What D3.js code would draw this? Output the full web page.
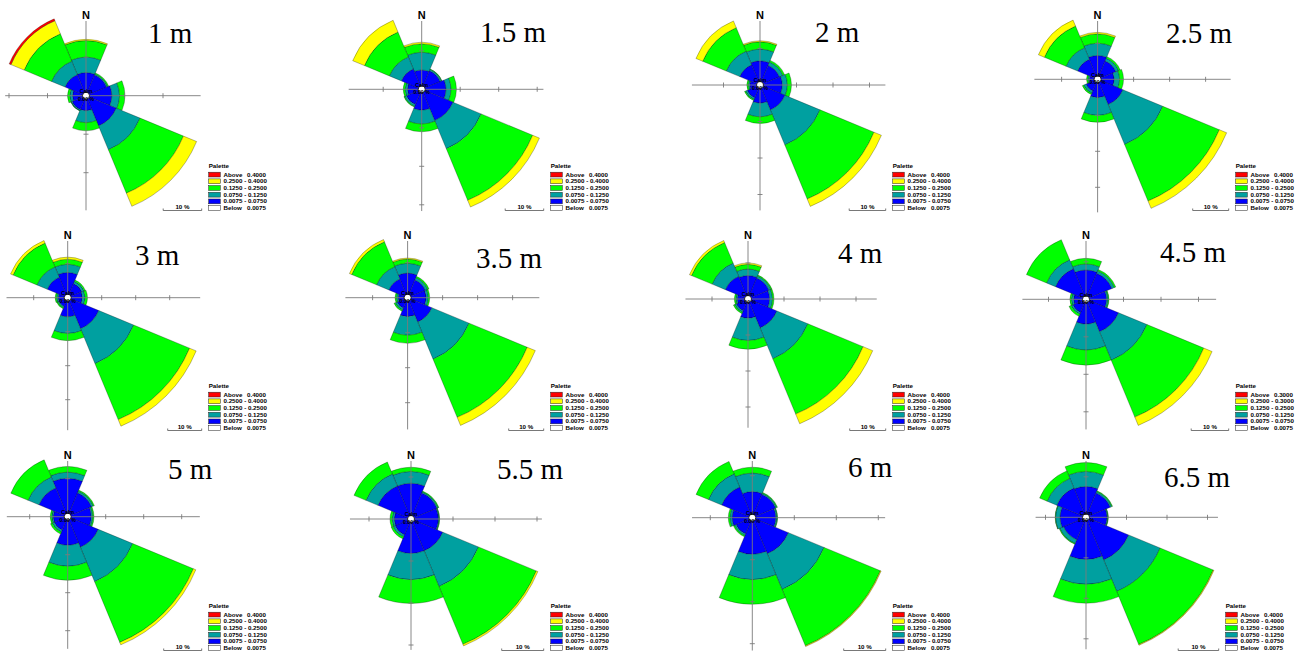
<!DOCTYPE html>
<html>
<head>
<meta charset="utf-8">
<script src="https://cdn.jsdelivr.net/npm/d3@7"></script>
<style>
  body { margin: 0; background: #fff; }
  svg { display: block; }
</style>
</head>
<body>
<svg id="chart" width="1302" height="656"></svg>
<script>
// Direction sectors, clockwise from north (45 degrees each)
const directions = ["N", "NE", "E", "SE", "S", "SW", "W", "NW"];
// Speed class lower bounds; the upper limit of the top class varies per plot
const speedBreaks = [0.0075, 0.075, 0.125, 0.25];
const classColors = ["#0000ff", "#00a0a0", "#00ff00", "#ffff00", "#ff0000"];
const depths = ["1 m", "1.5 m", "2 m", "2.5 m", "3 m", "3.5 m", "4 m", "4.5 m", "5 m", "5.5 m", "6 m", "6.5 m"];
const topLimit = [0.4, 0.4, 0.4, 0.4, 0.4, 0.4, 0.4, 0.3, 0.4, 0.4, 0.4, 0.4];
const calms = ["0.00", "0.00", "0.00", "0.00", "0.00", "0.00", "0.00", "0.00", "0.00", "0.00", "0.00", "0.00"];

// Frequency (%) by direction (rows N..NW) and speed class (blue, teal, green, yellow, red)
const freq1m = [
  [6.0, 4.0, 4.3, 0.3, 0], [5.8, 0.3, 0.3, 0, 0], [6.7, 2.0, 1.4, 0, 0], [8.5, 6.7, 12.2, 3.7, 0],
  [3.9, 3.1, 2.1, 0, 0], [3.9, 0.3, 0.1, 0, 0], [3.5, 0.7, 0.6, 0, 0], [5.9, 3.8, 7.7, 3.7, 0.5]];
const freq1_5m = [
  [5.0, 4.6, 2.2, 0.4, 0], [5.2, 0.4, 0.1, 0, 0], [6.3, 1.3, 1.4, 0, 0], [8.8, 7.9, 14.5, 1.9, 0],
  [5.4, 3.6, 2.0, 0, 0], [4.3, 0.5, 0.2, 0, 0], [3.7, 0.6, 0.5, 0, 0], [5.7, 3.4, 7.0, 3.3, 0]];
const freq2m = [
  [6.6, 3.2, 2.0, 0.3, 0], [5.8, 1.0, 0.5, 0, 0], [6.1, 1.4, 1.1, 0, 0], [7.4, 10.4, 16.0, 2.2, 0],
  [5.0, 3.7, 1.8, 0, 0], [3.8, 0.5, 0.3, 0, 0], [2.8, 0.4, 0.4, 0, 0], [6.0, 4.0, 7.0, 2.0, 0]];
const freq2_5m = [
  [6.6, 3.4, 2.6, 0.4, 0], [5.5, 0.8, 0.5, 0, 0], [4.6, 1.5, 1.1, 0, 0], [7.6, 12.0, 17.0, 2.2, 0],
  [5.1, 4.9, 1.9, 0, 0], [3.5, 0.7, 0.4, 0, 0], [2.3, 0.4, 0.4, 0, 0], [6.0, 3.5, 6.5, 1.8, 0]];
const freq3m = [
  [7.4, 2.4, 1.5, 0.6, 0], [4.5, 0.7, 0.4, 0, 0], [4.3, 0.8, 0.7, 0, 0], [9.9, 11.1, 17.8, 2.1, 0],
  [5.6, 4.9, 2.1, 0, 0], [2.8, 0.4, 0.3, 0, 0], [2.8, 0.5, 0.4, 0, 0], [6.5, 3.3, 7.6, 0.8, 0]];
const freq3_5m = [
  [7.0, 2.8, 1.2, 0.3, 0], [5.5, 0.7, 0.4, 0, 0], [5.3, 0.6, 0.4, 0, 0], [7.5, 11.5, 18.0, 2.5, 0],
  [5.4, 5.3, 2.3, 0, 0], [3.2, 0.6, 0.4, 0, 0], [2.7, 0.5, 0.4, 0, 0], [5.8, 3.8, 7.7, 0.7, 0]];
const freq4m = [
  [6.5, 1.8, 1.3, 0.4, 0], [6.3, 0.6, 0.3, 0, 0], [6.0, 0.8, 0.4, 0, 0], [8.7, 9.3, 16.6, 2.9, 0],
  [5.3, 6.2, 2.4, 0, 0], [3.5, 0.5, 0.4, 0, 0], [3.0, 0.4, 0.4, 0, 0], [6.8, 4.0, 6.2, 0.6, 0]];
const freq4_5m = [
  [7.8, 1.6, 1.5, 0, 0], [7.5, 0.7, 0.4, 0, 0], [5.5, 0.4, 0.2, 0, 0], [9.4, 8.2, 16.4, 2.4, 0],
  [6.6, 6.9, 4.0, 0, 0], [3.8, 0.5, 0.6, 0, 0], [3.3, 0.6, 0.4, 0, 0], [8.8, 2.6, 5.8, 0, 0]];
const freq5m = [
  [10.1, 1.6, 1.5, 0, 0], [6.8, 0.5, 0.3, 0, 0], [6.2, 0.4, 0.3, 0, 0], [8.7, 9.8, 17.3, 0.7, 0],
  [7.5, 5.5, 3.7, 0, 0], [3.8, 0.6, 0.5, 0, 0], [3.8, 0.4, 0.4, 0, 0], [8.2, 3.1, 4.9, 0, 0]];
const freq5_5m = [
  [8.5, 2.8, 1.0, 0, 0], [6.7, 0.3, 0.2, 0, 0], [6.5, 0.2, 0.1, 0, 0], [8.2, 9.2, 14.9, 0.4, 0],
  [8.2, 6.2, 5.7, 0, 0], [4.1, 0.5, 0.5, 0, 0], [4.0, 0.5, 0.5, 0, 0], [8.5, 3.1, 3.1, 0, 0]];
const freq6m = [
  [6.2, 4.4, 1.4, 0, 0], [6.0, 0.3, 0.2, 0, 0], [5.6, 0.3, 0.1, 0, 0], [9.3, 9.2, 14.5, 0.2, 0],
  [8.7, 6.0, 5.9, 0, 0], [4.2, 0.4, 0.3, 0, 0], [4.8, 0.5, 0.4, 0, 0], [7.9, 3.4, 3.2, 0, 0]];
const freq6_5m = [
  [7.6, 3.7, 2.2, 0, 0], [6.5, 0.4, 0.2, 0, 0], [5.2, 0.2, 0.1, 0, 0], [11.4, 8.4, 14.2, 0.2, 0],
  [10.4, 6.1, 4.7, 0, 0], [6.0, 1.0, 0.2, 0, 0], [6.4, 1.1, 0.1, 0, 0], [7.8, 2.6, 2.0, 0, 0]];

const roseFreq = [freq1m, freq1_5m, freq2m, freq2_5m, freq3m, freq3_5m, freq4m, freq4_5m,
                  freq5m, freq5_5m, freq6m, freq6_5m];

// Page layout: panel origin, rose centre, pixels per 10 %, title anchor
const panelOrigin = [[0, 0], [342, 0], [684, 0], [1027, 0],
                     [0, 220], [342, 220], [684, 220], [1027, 220],
                     [0, 440], [342, 440], [684, 440], [1017, 440]];
const roseCenter = [[86, 95.7], [421.7, 89.3], [760, 85], [1097.6, 79.3],
                    [67.7, 297.7], [407.6, 297.7], [748, 299], [1086, 299.3],
                    [67.7, 516.7], [411, 519], [752.3, 517.7], [1086, 517.3]];
const pxPer10 = [38.5, 38.5, 36.5, 36, 34, 35, 36, 37.5, 38, 42, 42, 40.5];
const titlePos = [[148, 43], [480, 42], [815, 42], [1166, 43],
                  [135, 265], [476, 268], [838, 263], [1160, 262],
                  [168, 479], [497, 479], [848, 477], [1164, 487]];

const svg = d3.select("#chart");
const arc = d3.arc();
const half = Math.PI / 8;
const fmt = d3.format(".4f");
const sans = "'Liberation Sans', Arial, sans-serif";

depths.forEach((depth, p) => {
  const [ox, oy] = panelOrigin[p];
  const [cx, cy] = roseCenter[p];
  const r = d3.scaleLinear().domain([0, 10]).range([0, pxPer10[p]]);
  const g = svg.append("g").attr("class", "panel");
  const rose = g.append("g").attr("transform", `translate(${cx},${cy})`);

  // stacked bands per direction sector
  const bands = [];
  const totals = [];
  roseFreq[p].forEach((vals, i) => {
    const cum = [0, ...d3.cumsum(vals)];
    const a = i * Math.PI / 4;
    vals.forEach((v, k) => {
      if (v > 0) bands.push({ cls: k, r0: cum[k], r1: cum[k + 1], a0: a - half, a1: a + half });
    });
    totals.push({ a, total: cum[cum.length - 1] });
  });

  rose.selectAll("path.band").data(bands).join("path")
    .attr("class", "band")
    .attr("d", d => arc({ innerRadius: r(d.r0), outerRadius: r(d.r1), startAngle: d.a0, endAngle: d.a1 }))
    .attr("fill", d => classColors[d.cls])
    .attr("stroke", "rgba(0,0,0,0.55)")
    .attr("stroke-width", 0.5);

  // axis extents follow the outermost petal corners
  let right = 0, left = 0, down = 0;
  totals.forEach(({ a, total }) => {
    [a - half, a + half].forEach(t => {
      const x = Math.sin(t) * r(total), y = -Math.cos(t) * r(total);
      right = Math.max(right, x); left = Math.max(left, -x); down = Math.max(down, y);
    });
  });
  right += 4; left += 4; down += 4;
  const up = cy - (oy + 21);

  const axisColor = "#7a7a7a";
  rose.append("line").attr("x1", -left).attr("x2", right).attr("y1", 0).attr("y2", 0)
    .attr("stroke", axisColor).attr("stroke-width", 0.9);
  rose.append("line").attr("x1", 0).attr("x2", 0).attr("y1", -up).attr("y2", down)
    .attr("stroke", axisColor).attr("stroke-width", 0.9);

  const tickVals = d3.range(10, 100, 10);
  const ticks = [];
  tickVals.forEach(v => {
    const d = r(v);
    if (d <= right) ticks.push([d, 0, "h"]);
    if (d <= left) ticks.push([-d, 0, "h"]);
    if (d <= down) ticks.push([0, d, "v"]);
    if (d <= up) ticks.push([0, -d, "v"]);
  });
  rose.selectAll("line.tick").data(ticks).join("line")
    .attr("class", "tick")
    .attr("x1", d => d[2] === "h" ? d[0] : -2.5)
    .attr("x2", d => d[2] === "h" ? d[0] : 2.5)
    .attr("y1", d => d[2] === "h" ? -2.5 : d[1])
    .attr("y2", d => d[2] === "h" ? 2.5 : d[1])
    .attr("stroke", axisColor).attr("stroke-width", 0.9);

  // calm circle
  rose.append("circle").attr("r", 3.5).attr("fill", "#fff").attr("stroke", "#000").attr("stroke-width", 0.8);
  rose.append("text").attr("x", 0).attr("y", -2.6).attr("text-anchor", "middle")
    .attr("font-family", sans).attr("font-size", 5.2).attr("font-weight", "bold").text("Calm");
  rose.append("text").attr("x", 0).attr("y", 5).attr("text-anchor", "middle")
    .attr("font-family", sans).attr("font-size", 5.2).attr("font-weight", "bold").text(calms[p] + " %");

  // north label
  g.append("text").attr("x", cx).attr("y", oy + 18.5).attr("text-anchor", "middle")
    .attr("font-family", sans).attr("font-size", 11).attr("font-weight", "bold").text("N");

  // depth title
  g.append("text").attr("x", titlePos[p][0]).attr("y", titlePos[p][1])
    .attr("font-family", "'Liberation Serif', 'Times New Roman', serif").attr("font-size", 29)
    .text(depth);

  // palette legend
  const lx = ox + 208.7;
  g.append("text").attr("x", lx).attr("y", oy + 168.2)
    .attr("font-family", sans).attr("font-size", 6.2).attr("font-weight", "bold").text("Palette");
  const top = topLimit[p];
  const rows = [
    { color: classColors[4], a: "Above", b: fmt(top) },
    { color: classColors[3], a: `${fmt(speedBreaks[3])} - ${fmt(top)}` },
    { color: classColors[2], a: `${fmt(speedBreaks[2])} - ${fmt(speedBreaks[3])}` },
    { color: classColors[1], a: `${fmt(speedBreaks[1])} - ${fmt(speedBreaks[2])}` },
    { color: classColors[0], a: `${fmt(speedBreaks[0])} - ${fmt(speedBreaks[1])}` },
    { color: "#ffffff", a: "Below", b: fmt(speedBreaks[0]) }
  ];
  const leg = g.append("g");
  rows.forEach((row, i) => {
    const y = oy + 172.2 + i * 6.7;
    leg.append("rect").attr("x", lx).attr("y", y).attr("width", 11.6).attr("height", 4.8)
      .attr("fill", row.color).attr("stroke", "#222").attr("stroke-width", 0.5);
    leg.append("text").attr("x", lx + 14.8).attr("y", y + 4.4)
      .attr("font-family", sans).attr("font-size", 6.2).attr("font-weight", "bold").text(row.a);
    if (row.b) leg.append("text").attr("x", lx + 38.3).attr("y", y + 4.4)
      .attr("font-family", sans).attr("font-size", 6.2).attr("font-weight", "bold").text(row.b);
  });

  // 10 % scale bar
  const bx1 = lx - 7, bx0 = bx1 - r(10), by = oy + 210.5;
  g.append("path").attr("d", `M${bx0},${by - 2}V${by}H${bx1}V${by - 2}`)
    .attr("fill", "none").attr("stroke", "#555").attr("stroke-width", 0.8);
  g.append("text").attr("x", (bx0 + bx1) / 2).attr("y", by - 2)
    .attr("text-anchor", "middle").attr("font-family", sans).attr("font-size", 6.2)
    .attr("font-weight", "bold").text("10 %");
});
</script>
</body>
</html>
